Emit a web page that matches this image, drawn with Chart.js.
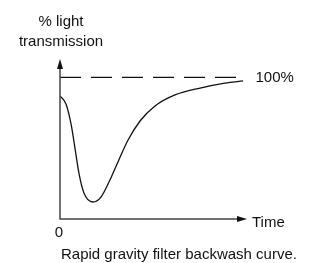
<!DOCTYPE html>
<html>
<head>
<meta charset="utf-8">
<script src="https://cdn.jsdelivr.net/npm/chart.js@4"></script>
<style>
  html, body { margin: 0; padding: 0; background: #fff; }
  #wrap { width: 310px; height: 263px; }
</style>
</head>
<body>
<div id="wrap"><canvas id="chart" width="310" height="263"></canvas></div>
<script>
// time (arbitrary units, 0..100 = end of time arrow)
const timeValues = [0, 3.2, 5.9, 8.0, 10.2, 12.8, 17.6, 21.9, 26.2, 31.0, 36.4, 42.8, 50.8, 61.5, 74.9, 88.2, 97.9];
// % light transmission
const transmission = [86.9, 81.2, 67.1, 50.1, 31.8, 18.4, 12.0, 15.5, 26.1, 40.3, 55.8, 69.2, 79.8, 87.6, 92.5, 96.0, 97.5];
// clean water reference line
const refTime = [0, 97.6];
const refLevel = [100, 100];

const yLabelLines = ['% light', 'transmission'];
const refLabel = '100%';
const xLabel = 'Time';
const originLabel = '0';
const caption = 'Rapid gravity filter backwash curve.';

const FONT = '15px "Liberation Sans", Arial, sans-serif';

const axesPlugin = {
  id: 'axesAndLabels',
  afterDraw(chart) {
    const ctx = chart.ctx;
    const x = chart.scales.x;
    const y = chart.scales.y;
    const x0 = x.getPixelForValue(0);
    const y0 = y.getPixelForValue(0);
    const xEnd = x.getPixelForValue(100);
    const yTop = y.getPixelForValue(y.max);

    ctx.save();
    ctx.strokeStyle = '#444';
    ctx.lineWidth = 1.5;
    ctx.beginPath();
    ctx.moveTo(x0, yTop + 8);
    ctx.lineTo(x0, y0);
    ctx.lineTo(xEnd - 9, y0);
    ctx.stroke();

    // arrow heads
    ctx.fillStyle = '#111';
    ctx.beginPath();
    ctx.moveTo(x0, yTop);
    ctx.lineTo(x0 - 3, yTop + 10);
    ctx.lineTo(x0 + 3, yTop + 10);
    ctx.closePath();
    ctx.fill();
    ctx.beginPath();
    ctx.moveTo(xEnd, y0);
    ctx.lineTo(xEnd - 10, y0 - 3);
    ctx.lineTo(xEnd - 10, y0 + 3);
    ctx.closePath();
    ctx.fill();

    ctx.fillStyle = '#111';
    ctx.font = FONT;
    ctx.textBaseline = 'alphabetic';
    ctx.textAlign = 'center';
    ctx.fillText(yLabelLines[0], x0 + 1, 26);
    ctx.fillText(yLabelLines[1], x0 + 1, 46);
    ctx.fillText(originLabel, x0 - 1, y0 + 18);
    ctx.textAlign = 'left';
    ctx.fillText(caption, x0 + 1, 259);
    ctx.fillText(refLabel, x.getPixelForValue(refTime[1]) + 13, y.getPixelForValue(100) + 5);
    ctx.fillText(xLabel, xEnd + 5, y0 + 8);
    ctx.restore();
  }
};

new Chart(document.getElementById('chart'), {
  type: 'scatter',
  data: {
    datasets: [
      {
        data: timeValues.map((t, i) => ({ x: t, y: transmission[i] })),
        showLine: true,
        borderColor: '#111',
        borderWidth: 1.3,
        pointRadius: 0,
        cubicInterpolationMode: 'monotone',
        fill: false
      },
      {
        data: refTime.map((t, i) => ({ x: t, y: refLevel[i] })),
        showLine: true,
        borderColor: '#111',
        borderWidth: 1.3,
        borderDash: [21, 10],
        pointRadius: 0,
        fill: false
      }
    ]
  },
  options: {
    responsive: false,
    animation: false,
    events: [],
    layout: { padding: { left: 60, right: 63, top: 59, bottom: 44 } },
    plugins: { legend: { display: false }, tooltip: { enabled: false } },
    scales: {
      x: { type: 'linear', display: false, min: 0, max: 100 },
      y: { type: 'linear', display: false, min: 0, max: 113 }
    }
  },
  plugins: [axesPlugin]
});
</script>
</body>
</html>
